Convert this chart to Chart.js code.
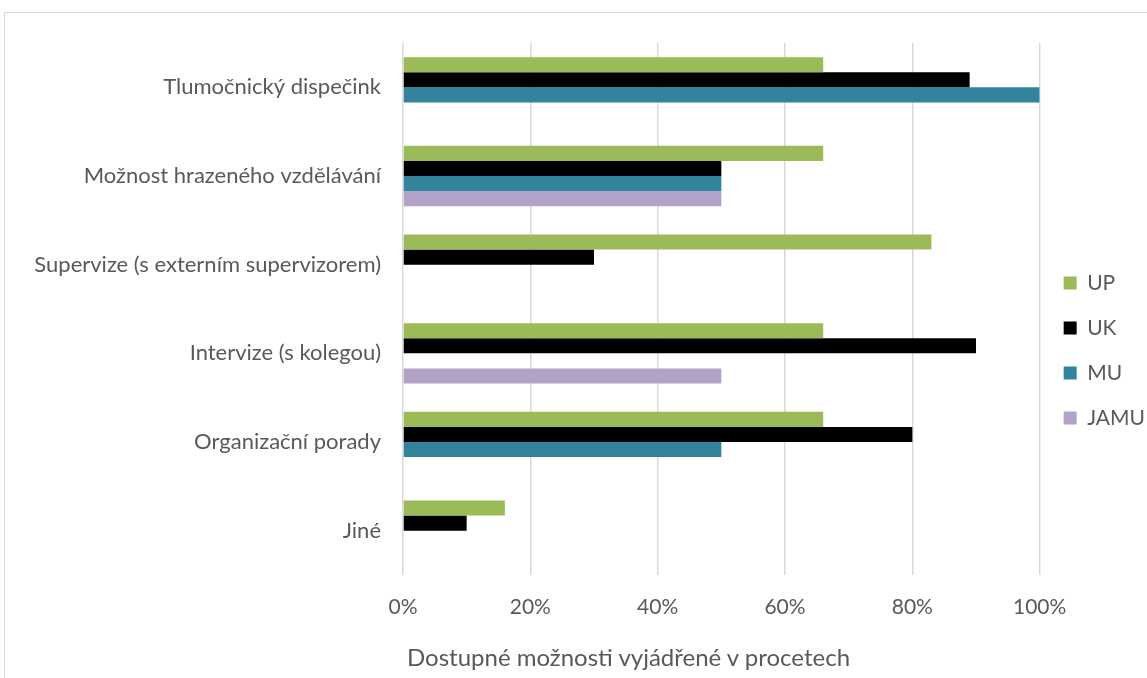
<!DOCTYPE html>
<html>
<head>
<meta charset="utf-8">
<script src="https://cdn.jsdelivr.net/npm/chart.js@4"></script>
<style>
  html, body { margin: 0; padding: 0; background: #fff; }
  #wrap { position: relative; width: 1147px; height: 678px; overflow: hidden; }
  #frame { position: absolute; left: 4px; top: 12px; width: 1200px; height: 700px; border: 1px solid #d9d9d9; box-sizing: border-box; }
  #chart { position: absolute; left: 0; top: 0; }
  #xTitle { position: absolute; left: 407px; top: 642px; font-family: Lato, sans-serif; font-size: 24px; color: #595959; white-space: nowrap; }
</style>
</head>
<body>
<div id="wrap">
  <div id="frame"></div>
  <canvas id="chart" width="1155" height="678"></canvas>
  <div id="xTitle">Dostupné možnosti vyjádřené v procetech</div>
</div>
<script>
const categories = [
  'Tlumočnický dispečink',
  'Možnost hrazeného vzdělávání',
  'Supervize (s externím supervizorem)',
  'Intervize (s kolegou)',
  'Organizační porady',
  'Jiné'
];
const seriesNames = ['UP', 'UK', 'MU', 'JAMU'];
const valuesUP   = [66, 66, 83, 66, 66, 16];
const valuesUK   = [89, 50, 30, 90, 80, 10];
const valuesMU   = [100, 50, 0, 0, 50, 0];
const valuesJAMU = [0, 50, 0, 50, 0, 0];
const xTicks = [0, 20, 40, 60, 80, 100];

const colors = ['#9bbb59', '#000000', '#31849b', '#b3a2c7'];
const allValues = [valuesUP, valuesUK, valuesMU, valuesJAMU];

const fontFamily = 'Lato, sans-serif';
const textColor = '#595959';

const ctx = document.getElementById('chart').getContext('2d');

new Chart(ctx, {
  type: 'bar',
  data: {
    labels: categories,
    datasets: seriesNames.map((name, i) => ({
      label: name,
      data: allValues[i],
      backgroundColor: colors[i],
      borderWidth: 0,
      barPercentage: 1,
      categoryPercentage: 0.68
    }))
  },
  options: {
    indexAxis: 'y',
    responsive: false,
    animation: false,
    layout: { padding: { top: 43, bottom: 20, left: 0, right: 0 } },
    plugins: {
      legend: {
        position: 'right',
        labels: {
          boxWidth: 13,
          boxHeight: 13,
          padding: 24,
          color: textColor,
          font: { family: fontFamily, size: 21 }
        }
      },
      tooltip: { enabled: false }
    },
    scales: {
      x: {
        min: 0,
        max: 100,
        afterBuildTicks: (scale) => { scale.ticks = xTicks.map(v => ({ value: v })); },
        afterFit: (scale) => { scale.height = 83; },
        grid: { color: '#d9d9d9', lineWidth: 1.5, drawTicks: false },
        border: { display: false },
        ticks: {
          padding: 20,
          color: textColor,
          font: { family: fontFamily, size: 21 },
          callback: (v) => v + '%'
        }
      },
      y: {
        afterFit: (scale) => { scale.width = 403; },
        grid: { display: false, drawTicks: false },
        border: { display: false },
        ticks: {
          padding: 22,
          color: textColor,
          font: { family: fontFamily, size: 22 }
        }
      }
    }
  }
});
</script>
</body>
</html>
